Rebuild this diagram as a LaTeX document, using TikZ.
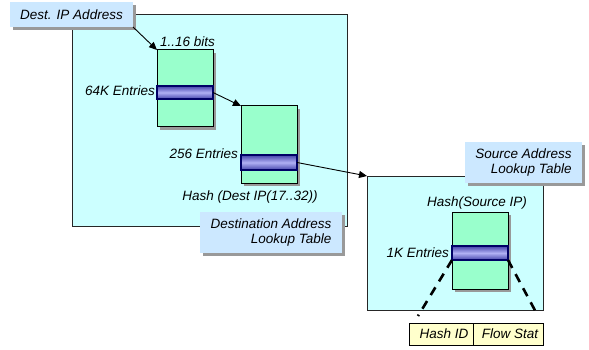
\documentclass[tikz,border=0pt]{standalone}
\usepackage{fontspec}
\setmainfont{Liberation Sans}
\usetikzlibrary{shadows,arrows.meta}
\definecolor{boxcyan}{HTML}{CCFFFF}
\definecolor{tablegreen}{HTML}{99FFCC}
\definecolor{labelblue}{HTML}{CCE8FF}
\definecolor{cellyellow}{HTML}{FFFFCC}
\definecolor{banddark}{HTML}{4444AA}
\definecolor{bandlight}{HTML}{B0B0F4}
\definecolor{navy}{HTML}{000066}
\tikzset{
  every node/.style={font=\fontsize{13.5}{15.5}\selectfont\itshape, inner sep=0pt, outer sep=0pt},
  bigbox/.style={draw=black!85, line width=0.9pt, fill=boxcyan},
  tagbox/.style={fill=labelblue, drop shadow={shadow xshift=3pt, shadow yshift=-3pt, fill=gray!80, opacity=1}},
  tablebox/.style={draw=black, line width=1pt, fill=tablegreen, drop shadow={shadow xshift=3pt, shadow yshift=-3pt, fill=gray!80, opacity=1}},
  bandbox/.style={draw=navy, line width=1.2pt, top color=banddark, bottom color=banddark, middle color=bandlight},
  cellbox/.style={draw=black, line width=0.8pt, fill=cellyellow},
  conn/.style={line width=0.9pt, -{Triangle[length=8pt,width=7pt]}},
  zoomline/.style={line width=2.6pt, dash pattern=on 9pt off 7pt},
}
\begin{document}
\begin{tikzpicture}[x=1pt,y=-1pt]
\useasboundingbox (0,0) rectangle (589,350);
% big boxes
\node[bigbox, minimum width=275pt, minimum height=212pt] (destbox) at (209.5,120) {};
\node[bigbox, minimum width=176pt, minimum height=134pt] (srcbox) at (455,243) {};
% labels
\node[tagbox, minimum width=123pt, minimum height=25pt] (dip) at (71.5,14.5) {Dest. IP Address};
\node[tagbox, minimum width=142pt, minimum height=41pt, align=right] (dlabel) at (271,232.5) {Destination Address\\Lookup Table};
\node[tagbox, minimum width=117pt, minimum height=41pt, align=right] (slabel) at (523.5,162.5) {Source Address\\Lookup Table};
% tables
\node[tablebox, minimum width=56pt, minimum height=77pt] (t1) at (185,88.5) {};
\node[bandbox, minimum width=56pt, minimum height=13pt] (b1) at (185,92.5) {};
\node[tablebox, minimum width=56pt, minimum height=77pt] (t2) at (269,144.5) {};
\node[bandbox, minimum width=56pt, minimum height=15pt] (b2) at (269,162.5) {};
\node[tablebox, minimum width=56pt, minimum height=77pt] (t3) at (480,250.5) {};
\node[bandbox, minimum width=56pt, minimum height=14pt] (b3) at (480,253) {};
% texts
\node[anchor=west] (bits) at (160,42) {1..16 bits};
\node[anchor=east] (e64) at (155,91) {64K Entries};
\node[anchor=east] (e256) at (238,154) {256 Entries};
\node (hdest) at (250,197) {Hash (Dest IP(17..32))};
\node (hsrc) at (477,203) {Hash(Source IP)};
\node[anchor=east] (e1k) at (449,253) {1K Entries};
% cells
\node[cellbox, minimum width=64pt, minimum height=22pt] (hid) at (441,334) {\hspace*{6pt}Hash ID};
\node[cellbox, minimum width=70pt, minimum height=22pt] (fst) at (508,334) {\hspace*{4pt}Flow Stat};
% connectors
\draw[conn] (dip.south east) -- (t1.north west);
\draw[conn] (b1.east) -- (t2.north west);
\draw[conn] (b2.east) -- (srcbox.north west);
\coordinate (zl) at (418,316);
\coordinate (zr) at (538,316);
\draw[zoomline] (b3.south west) -- (zl);
\draw[zoomline] (b3.south east) -- (zr);
\end{tikzpicture}
\end{document}
